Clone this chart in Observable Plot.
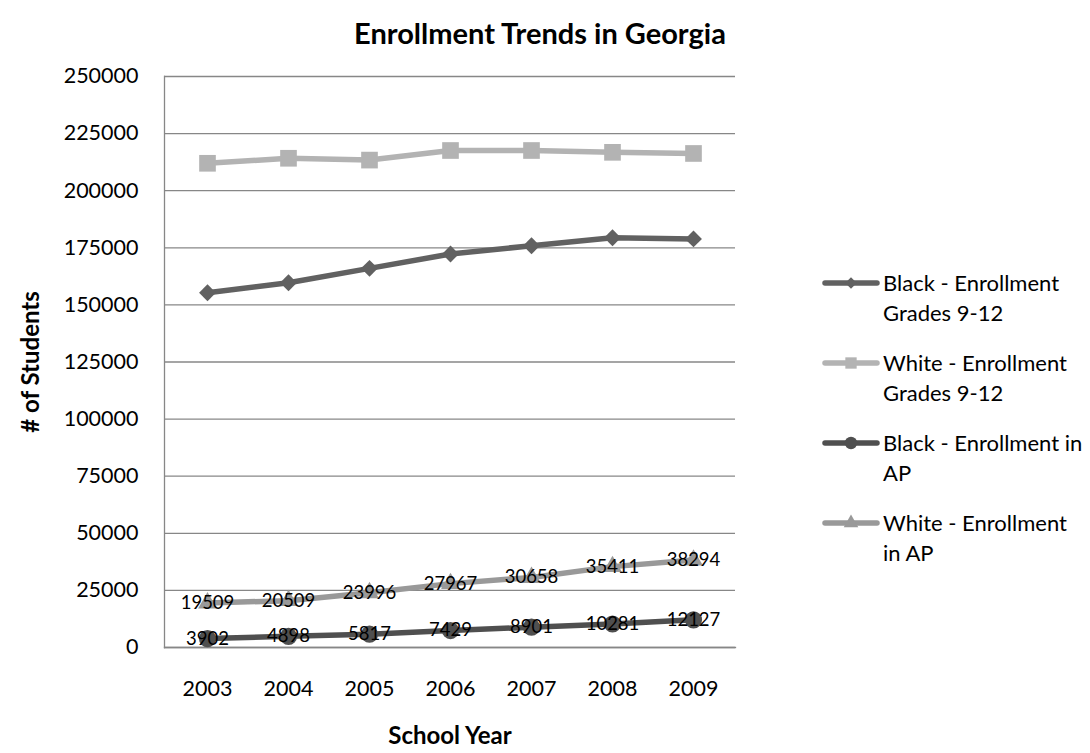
<!DOCTYPE html>
<html>
<head>
<meta charset="utf-8">
<script src="https://cdn.jsdelivr.net/npm/d3@7"></script>
<script src="https://cdn.jsdelivr.net/npm/@observablehq/plot@0.6"></script>
<style>
  body { margin: 0; background: #fff; }
  #wrap { position: relative; width: 1090px; height: 753px; font-family: Lato, "Open Sans", sans-serif; color: #000; }
  #title { position: absolute; left: 240px; width: 600px; top: 32px; transform: translateY(-50%); text-align: center; font-weight: bold; font-size: 29px; line-height: 1; }
  #ylab { position: absolute; left: 30px; top: 362px; transform: translate(-50%, -50%) rotate(-90deg); white-space: nowrap; font-weight: bold; font-size: 24px; line-height: 1; }
  #xlab { position: absolute; left: 450px; top: 735px; transform: translate(-50%, -50%); white-space: nowrap; font-weight: bold; font-size: 24px; line-height: 1; }
  #legend { position: absolute; left: 821px; top: 268px; }
  .entry { display: flex; align-items: flex-start; margin-bottom: 20px; }
  .entry svg { flex: none; }
  .entry .lab { white-space: nowrap; font-size: 22px; line-height: 30px; margin-left: 2px; }
</style>
</head>
<body>
<div id="wrap">
  <div id="chart"></div>
  <div id="title">Enrollment Trends in Georgia</div>
  <div id="ylab"># of Students</div>
  <div id="xlab">School Year</div>
  <div id="legend"></div>
</div>
<script>
const years = ["2003", "2004", "2005", "2006", "2007", "2008", "2009"];
const seriesNames = ["Black - Enrollment Grades 9-12", "White - Enrollment Grades 9-12", "Black - Enrollment in AP", "White - Enrollment in AP"];
const legendLines = [["Black - Enrollment", "Grades 9-12"], ["White - Enrollment", "Grades 9-12"], ["Black - Enrollment in", "AP"], ["White - Enrollment", "in AP"]];
const blackGrades = [155300, 159700, 166000, 172300, 175900, 179400, 178900];
const whiteGrades = [212000, 214200, 213400, 217600, 217600, 216800, 216300];
const blackAP = [3902, 4898, 5817, 7429, 8901, 10281, 12127];
const whiteAP = [19509, 20509, 23996, 27967, 30658, 35411, 38294];
const yTicks = [0, 25000, 50000, 75000, 100000, 125000, 150000, 175000, 200000, 225000, 250000];

const colors = ["#616161", "#b3b3b3", "#4f4f4f", "#999999"];
const symbols = ["diamond2", "square", "circle", "triangle"];
const symbolR = [7.6, 9.4, 8.6, 7.0];
const legendR = [5.2, 6.4, 6.2, 5.4];
const showLabels = [false, false, true, true];

const seriesValues = [blackGrades, whiteGrades, blackAP, whiteAP];
const rows = seriesValues.flatMap((vals, i) => vals.map((v, j) => ({ idx: i, series: seriesNames[i], year: years[j], value: v })));

const marks = [
  Plot.gridY(yTicks, { stroke: "#878787", strokeOpacity: 1, strokeWidth: 1.3 }),
  Plot.frame({ anchor: "left", stroke: "#878787", strokeWidth: 1.3 }),
  Plot.frame({ anchor: "bottom", stroke: "#878787", strokeWidth: 1.3 })
];
seriesValues.forEach((vals, i) => {
  const data = rows.filter(d => d.idx === i);
  marks.push(Plot.line(data, { x: "year", y: "value", stroke: colors[i], strokeWidth: 5.5 }));
  marks.push(Plot.dot(data, { x: "year", y: "value", symbol: symbols[i], r: symbolR[i], fill: colors[i], stroke: "none" }));
});
seriesValues.forEach((vals, i) => {
  if (!showLabels[i]) return;
  const data = rows.filter(d => d.idx === i);
  marks.push(Plot.text(data, { x: "year", y: "value", text: d => String(d.value), fontSize: 18.5, fill: "#000" }));
});

const chart = Plot.plot({
  width: 1090,
  height: 753,
  marginLeft: 164,
  marginRight: 355,
  marginTop: 76,
  marginBottom: 106,
  style: { fontFamily: "Lato, 'Open Sans', sans-serif", fontSize: "21.5px", color: "#000", background: "#fff" },
  x: { type: "point", domain: years, padding: 0.5, label: null, tickSize: 0, tickPadding: 33 },
  y: { domain: [0, 250000], ticks: yTicks, tickFormat: d => String(d), label: null, tickSize: 0, tickPadding: 26 },
  marks
});
document.getElementById("chart").appendChild(chart);

// legend
const legend = d3.select("#legend");
seriesNames.forEach((name, i) => {
  const e = legend.append("div").attr("class", "entry");
  const s = e.append("svg").attr("width", 60).attr("height", 30);
  s.append("line").attr("x1", 4).attr("x2", 56).attr("y1", 15).attr("y2", 15)
    .attr("stroke", colors[i]).attr("stroke-width", 5.5).attr("stroke-linecap", "round");
  const sym = { diamond2: d3.symbolDiamond2, square: d3.symbolSquare, circle: d3.symbolCircle, triangle: d3.symbolTriangle }[symbols[i]];
  const r = legendR[i];
  s.append("path").attr("transform", "translate(30,15)")
    .attr("d", d3.symbol(sym, Math.PI * r * r)()).attr("fill", colors[i]);
  const lab = e.append("div").attr("class", "lab");
  legendLines[i].forEach(t => lab.append("div").text(t));
});
</script>
</body>
</html>
